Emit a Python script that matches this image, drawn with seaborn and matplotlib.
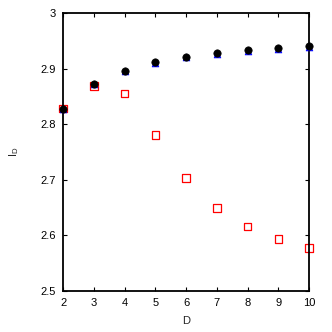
import numpy as np
import pandas as pd
import matplotlib
matplotlib.use("Agg")
import matplotlib.pyplot as plt
import seaborn as sns

# values
D = [2, 3, 4, 5, 6, 7, 8, 9, 10]
black_vals = [2.828, 2.873, 2.896, 2.911, 2.921, 2.928, 2.933, 2.937, 2.940]
blue_vals = [2.827, 2.872, 2.895, 2.910, 2.920, 2.927, 2.932, 2.936, 2.939]
red_vals = [2.828, 2.869, 2.855, 2.780, 2.703, 2.649, 2.616, 2.593, 2.577]

sns.set_style("ticks")
plt.rcParams['font.family'] = ['Liberation Sans', 'DejaVu Sans']

fig = plt.figure(figsize=(3.32, 3.32), dpi=100)
ax = fig.add_axes([0.19, 0.1235, 0.741, 0.8375])

sns.scatterplot(x=D, y=red_vals, ax=ax, marker='s', s=30, clip_on=False,
                facecolor='none', edgecolor='red', linewidth=0.9, zorder=2)
sns.scatterplot(x=D, y=blue_vals, ax=ax, marker='^', s=24, clip_on=False,
                color='blue', edgecolor='blue', linewidth=0.5, zorder=3)
sns.scatterplot(x=D, y=black_vals, ax=ax, marker='o', s=28, clip_on=False,
                color='black', edgecolor='black', linewidth=0.5, zorder=4)

ax.set_xlim(2, 10)
ax.set_ylim(2.5, 3.0)
ax.set_xticks(range(2, 11))
ax.set_yticks([2.5, 2.6, 2.7, 2.8, 2.9, 3.0])
ax.set_yticklabels(['2.5', '2.6', '2.7', '2.8', '2.9', '3'])
ax.tick_params(direction='in', top=True, right=True, length=3, width=0.8,
               labelsize=8, colors='black', pad=5)
for sp in ax.spines.values():
    sp.set_linewidth(1.3)
    sp.set_color('black')

ax.set_xlabel('D', fontsize=8, labelpad=6)
ax.set_ylabel(r'$\mathregular{I_D}$', fontsize=8, labelpad=14)

fig.savefig('out.png', dpi=100)
